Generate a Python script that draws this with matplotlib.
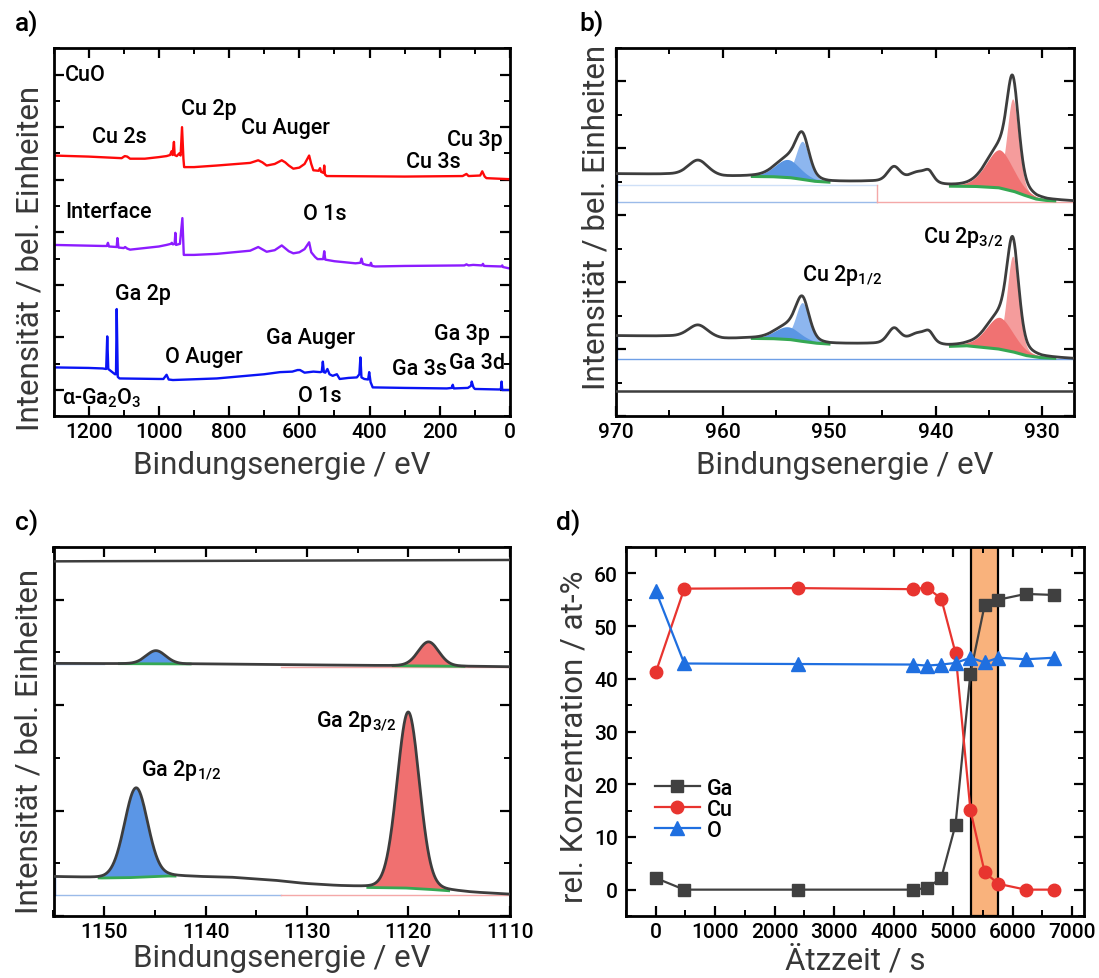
import numpy as np
import matplotlib
matplotlib.use("Agg")
import matplotlib.pyplot as plt
from matplotlib.ticker import MultipleLocator, NullFormatter

plt.rcParams["font.family"] = ["Roboto", "DejaVu Sans"]
plt.rcParams["font.weight"] = 500
plt.rcParams["mathtext.fontset"] = "custom"
plt.rcParams["mathtext.rm"] = "Roboto:medium"
plt.rcParams["mathtext.it"] = "Roboto:italic"
plt.rcParams["mathtext.bf"] = "Roboto:bold"

# ---------------------------------------------------------------- survey spectra (a)
CUO_EV = [1300, 1200, 1106, 1097, 1090, 1082, 1040, 1000, 978, 968, 964, 961, 957, 955,
          949, 942, 938, 934, 930, 928, 900, 835, 740, 726, 717, 705, 693, 670, 650, 640,
          630, 617, 600, 585, 572, 566, 560, 545, 541, 538, 531, 529, 527, 522, 300, 135,
          124, 118, 85, 79, 72, 67, 0]
CUO_INT = [4.46, 4.44, 4.41, 4.45, 4.44, 4.40, 4.40, 4.43, 4.45, 4.47, 4.54, 4.47, 4.72, 4.47,
           4.45, 4.50, 4.46, 5.00, 4.40, 4.24, 4.24, 4.27, 4.32, 4.35, 4.37, 4.33, 4.27, 4.30,
           4.37, 4.33, 4.27, 4.21, 4.23, 4.30, 4.46, 4.30, 4.18, 4.17, 4.22, 4.15, 4.13, 4.27,
           4.10, 4.07, 4.06, 4.07, 4.11, 4.07, 4.08, 4.16, 4.06, 4.03, 4.01]

IF_EV = [1300, 1160, 1148, 1145, 1142, 1120, 1118, 1115, 1100, 1096, 1090, 1082, 1000, 978,
         966, 963, 960, 955, 953, 951, 940, 933, 929, 900, 835, 740, 717, 693, 670, 650, 630,
         617, 600, 585, 572, 566, 555, 548, 532, 529, 526, 500, 440, 426, 423, 419, 409, 398,
         396, 393, 384, 300, 130, 124, 118, 105, 80, 77, 74, 25, 22, 20, 0]
IF_INT = [2.76, 2.74, 2.74, 2.80, 2.73, 2.72, 2.89, 2.71, 2.70, 2.72, 2.69, 2.67, 2.73, 2.76,
          2.78, 2.80, 2.77, 2.78, 2.99, 2.76, 2.78, 3.27, 2.57, 2.57, 2.59, 2.65, 2.72, 2.63,
          2.66, 2.75, 2.64, 2.60, 2.62, 2.68, 2.81, 2.62, 2.53, 2.49, 2.49, 2.64, 2.48, 2.45,
          2.41, 2.42, 2.50, 2.40, 2.38, 2.37, 2.42, 2.36, 2.35, 2.36, 2.37, 2.39, 2.37, 2.38,
          2.37, 2.40, 2.36, 2.35, 2.37, 2.34, 2.31]

GA_EV = [1300, 1200, 1160, 1150, 1147, 1144, 1125, 1122, 1120, 1117, 1112, 1000, 987, 978,
         972, 960, 835, 700, 655, 620, 605, 598, 585, 560, 540, 536, 533, 530, 526, 520, 514,
         505, 493, 485, 460, 436, 429, 426, 423, 415, 404, 401, 397, 391, 300, 180, 166, 163,
         160, 120, 111, 109, 104, 100, 30, 26, 24, 22, 0]
GA_INT = [0.43, 0.42, 0.41, 0.40, 1.02, 0.40, 0.30, 0.30, 1.54, 0.25, 0.22, 0.21, 0.21, 0.29,
          0.20, 0.19, 0.22, 0.30, 0.34, 0.35, 0.38, 0.38, 0.33, 0.35, 0.34, 0.35, 0.54, 0.34,
          0.33, 0.40, 0.30, 0.27, 0.30, 0.21, 0.23, 0.24, 0.30, 0.62, 0.24, 0.21, 0.20, 0.34,
          0.15, 0.05, 0.04, 0.03, 0.04, 0.10, 0.03, 0.04, 0.08, 0.16, 0.05, 0.02, 0.01, 0.02,
          0.16, 0.00, 0.00]

SURVEY_LABELS = ["CuO", "Cu 2s", "Cu 2p", "Cu Auger", "Cu 3p", "Cu 3s", "Interface", "O 1s",
                 "Ga 2p", "O Auger", "Ga Auger", "Ga 3p", "Ga 3s", "Ga 3d", "O 1s",
                 r"α-Ga$_\mathregular{2}$O$_\mathregular{3}$"]
SURVEY_LABEL_EV = [1208, 1111, 859, 639, 101, 218, 1142, 527, 1046, 873, 567, 136, 257, 93, 543, 1163]
SURVEY_LABEL_Y = [6.01, 4.83, 5.35, 5.00, 4.77, 4.34, 3.40, 3.35, 1.83, 0.64, 1.00, 1.07, 0.41, 0.53,
                  -0.11, -0.14]

# ---------------------------------------------------------------- Cu 2p detail (b)
# background knots (binding energy, intensity)
CU_TOP_BG_EV = [970, 965, 960, 957.2, 955, 953.5, 952.3, 951.2, 950.0, 946, 944.5, 940, 938.6,
                936, 934, 932.5, 931.5, 930.5, 929.5, 927]
CU_TOP_BG = [2.62, 2.61, 2.575, 2.58, 2.575, 2.56, 2.53, 2.505, 2.495, 2.50, 2.495, 2.44, 2.435,
             2.43, 2.41, 2.35, 2.29, 2.24, 2.22, 2.205]
CU_BOT_BG_EV = [970, 965, 960, 957.4, 955, 953.5, 952.3, 951, 949.9, 946, 944.5, 940, 938.9,
                937, 934, 932.5, 931.4, 930, 927]
CU_BOT_BG = [0.20, 0.19, 0.15, 0.16, 0.155, 0.14, 0.11, 0.085, 0.075, 0.075, 0.07, 0.045, 0.04,
             0.05, 0.0, -0.05, -0.10, -0.13, -0.15]

# fitted components: Cu 2p1/2 (main, shoulder), Cu 2p3/2 (main, shoulder)
CU_COMP_CENTER = [952.5, 953.9, 932.75, 934.0]
CU_TOP_COMP_HEIGHT = [0.57, 0.27, 1.38, 0.57]
CU_BOT_COMP_HEIGHT = [0.58, 0.19, 1.43, 0.475]
CU_COMP_FWHM = [1.5, 2.8, 1.3, 3.0]
CU_COMP_COLOR = ["#8db6ef", "#5a96e3", "#f59c9c", "#f07272"]
CU_FIT_REGION = [(957.2, 950.0), (957.2, 950.0), (938.6, 928.8), (938.6, 928.8)]

# shake-up satellites
CU_SAT_CENTER = [962.3, 943.9, 941.6, 940.6]
CU_TOP_SAT_HEIGHT = [0.23, 0.22, 0.17, 0.12]
CU_BOT_SAT_HEIGHT = [0.19, 0.23, 0.17, 0.12]
CU_SAT_FWHM = [2.2, 1.4, 2.2, 1.0]

CU_FLAT_LEVEL = -0.62

# ---------------------------------------------------------------- Ga 2p detail (c)
GA_TOP_BG_EV = [1155, 1140, 1130, 1120, 1110]
GA_TOP_BG = [1.396, 1.39, 1.382, 1.373, 1.364]
GA_BOT_BG_EV = [1155, 1150, 1147, 1143.5, 1140, 1137, 1132.6, 1130.3, 1127, 1123.6, 1120,
                1117, 1113.7, 1110]
GA_BOT_BG = [-0.627, -0.640, -0.635, -0.62, -0.63, -0.636, -0.668, -0.693, -0.715, -0.731,
             -0.735, -0.753, -0.778, -0.795]
GA_TOP_COMP_CENTER = [1144.9, 1118.0]
GA_TOP_COMP_HEIGHT = [0.125, 0.229]
GA_TOP_COMP_FWHM = [2.3, 2.4]
GA_BOT_COMP_CENTER = [1146.85, 1120.0]
GA_BOT_COMP_HEIGHT = [0.85, 1.67]
GA_BOT_COMP_FWHM = [2.7, 2.6]
GA_COMP_COLOR = ["#5b96e6", "#f07070"]
GA_TOP_REGION = [(1148.5, 1141.5), (1121.5, 1114.5)]
GA_BOT_REGION = [(1150.5, 1143.0), (1124.0, 1116.0)]
GA_FLAT_EV = [1155, 1110]
GA_FLAT = [2.364, 2.377]

# ---------------------------------------------------------------- depth profile (d)
ETCH_TIME = [0, 480, 2400, 4320, 4560, 4800, 5040, 5290, 5530, 5760, 6220, 6700]
GA_CONC = [2.2, 0.0, 0.0, 0.0, 0.3, 2.2, 12.3, 41.0, 54.0, 55.0, 56.1, 55.9]
CU_CONC = [41.2, 57.1, 57.2, 57.0, 57.3, 55.2, 44.9, 15.1, 3.3, 1.1, 0.0, 0.0]
O_CONC = [56.7, 42.9, 42.8, 42.7, 42.5, 42.7, 43.0, 44.0, 43.1, 44.0, 43.7, 44.0]
INTERFACE_WINDOW = (5300, 5750)


def line_shape(x, center, height, fwhm, mix):
    """Gaussian-Lorentzian sum line shape."""
    u = (x - center) / fwhm
    gauss = np.exp(-4 * np.log(2) * u ** 2)
    lorentz = 1.0 / (1.0 + 4 * u ** 2)
    return height * ((1 - mix) * gauss + mix * lorentz)


FIG_W, FIG_H = 1099, 979
fig = plt.figure(figsize=(FIG_W / 100, FIG_H / 100), dpi=100)


def axes_px(left, top, right, bottom):
    return fig.add_axes([left / FIG_W, 1 - bottom / FIG_H, (right - left) / FIG_W,
                         (bottom - top) / FIG_H])


def style(ax):
    for s in ax.spines.values():
        s.set_linewidth(2)
    ax.tick_params(which="both", direction="in", top=True, right=True, labelsize=15, pad=4,
                   colors="black")
    ax.tick_params(which="major", length=7, width=1.6)
    ax.tick_params(which="minor", length=4, width=1.4)


LABEL_KW = dict(fontsize=22.5, color="#383838")
TEXT_KW = dict(fontsize=15.5, color="black", ha="center", va="center")
DARK = "#3d3d3d"
GREEN = "#35a853"

# ================================================================ a) survey
ax_a = axes_px(53.5, 49.3, 510, 417.3)
ax_a.plot(CUO_EV, CUO_INT, color="#ff0a0a", lw=1.7)
ax_a.plot(IF_EV, IF_INT, color="#8c1cff", lw=1.7)
ax_a.plot(GA_EV, GA_INT, color="#0a14f5", lw=1.7)
for txt, xe, ye in zip(SURVEY_LABELS, SURVEY_LABEL_EV, SURVEY_LABEL_Y):
    ax_a.text(xe, ye, txt, **TEXT_KW)
ax_a.set_xlim(1300, 0)
ax_a.set_ylim(-0.5, 6.5)
ax_a.xaxis.set_major_locator(MultipleLocator(200))
ax_a.xaxis.set_minor_locator(MultipleLocator(100))
ax_a.yaxis.set_major_locator(MultipleLocator(1))
ax_a.yaxis.set_minor_locator(MultipleLocator(0.5))
ax_a.yaxis.set_major_formatter(NullFormatter())
style(ax_a)
ax_a.set_xlabel("Bindungsenergie / eV", **LABEL_KW)
ax_a.set_ylabel("Intensität / bel. Einheiten", **LABEL_KW)
ax_a.xaxis.set_label_coords(0.5, -0.092)
ax_a.yaxis.set_label_coords(-0.019, 0.432)

# ================================================================ b) Cu 2p
ax_b = axes_px(616, 49, 1074, 417)
xb = np.linspace(927, 970, 2500)


def draw_cu(ax, bg_ev, bg_val, comp_h, sat_h):
    bg = np.interp(xb, bg_ev[::-1], bg_val[::-1])
    comps = [line_shape(xb, c, h, w, 0.3)
             for c, h, w in zip(CU_COMP_CENTER, comp_h, CU_COMP_FWHM)]
    sats = [line_shape(xb, c, h, w, 0.3)
            for c, h, w in zip(CU_SAT_CENTER, sat_h, CU_SAT_FWHM)]
    for comp, color, (hi, lo) in zip(comps, CU_COMP_COLOR, CU_FIT_REGION):
        m = (xb <= hi) & (xb >= lo)
        ax.fill_between(xb[m], bg[m], bg[m] + comp[m], color=color, lw=0, zorder=2)
    for hi, lo in [CU_FIT_REGION[0], CU_FIT_REGION[2]]:
        m = (xb <= hi) & (xb >= lo)
        ax.plot(xb[m], bg[m], color=GREEN, lw=2.2, zorder=3)
    total = bg + np.sum(comps, axis=0) + np.sum(sats, axis=0)
    ax.plot(xb, total, color=DARK, lw=2, zorder=4)
    return bg


draw_cu(ax_b, CU_TOP_BG_EV, CU_TOP_BG, CU_TOP_COMP_HEIGHT, CU_TOP_SAT_HEIGHT)
draw_cu(ax_b, CU_BOT_BG_EV, CU_BOT_BG, CU_BOT_COMP_HEIGHT, CU_BOT_SAT_HEIGHT)
# fit-range guide lines
ax_b.plot([970, 945.5], [2.455, 2.455], color="#cfe0f7", lw=1, zorder=1)
ax_b.plot([970, 945.5], [2.195, 2.195], color="#9bbbe9", lw=1, zorder=1)
ax_b.plot([945.5, 927], [2.195, 2.195], color="#f4a8a8", lw=1, zorder=1)
ax_b.plot([945.5, 945.5], [2.195, 2.455], color="#f4a8a8", lw=1, zorder=1)
ax_b.plot([969.9, 969.9], [2.195, 2.62], color="#4a78c8", lw=1, zorder=1)
ax_b.plot([970, 927], [-0.15, -0.15], color="#6f9fe6", lw=1, zorder=1)
ax_b.plot([969.9, 969.9], [-0.15, 0.20], color="#4a78c8", lw=1, zorder=1)
ax_b.plot([970, 927], [CU_FLAT_LEVEL, CU_FLAT_LEVEL], color=DARK, lw=1.8, zorder=4)
ax_b.text(937.4, 1.68, r"Cu 2p$_\mathregular{3/2}$", **TEXT_KW)
ax_b.text(948.8, 1.12, r"Cu 2p$_\mathregular{1/2}$", **TEXT_KW)
ax_b.set_xlim(970, 927)
ax_b.set_ylim(-1, 4.5)
ax_b.xaxis.set_major_locator(MultipleLocator(10))
ax_b.xaxis.set_minor_locator(MultipleLocator(5))
ax_b.yaxis.set_major_locator(MultipleLocator(1))
ax_b.yaxis.set_minor_locator(MultipleLocator(0.5))
ax_b.yaxis.set_major_formatter(NullFormatter())
style(ax_b)
ax_b.set_xlabel("Bindungsenergie / eV", **LABEL_KW)
ax_b.set_ylabel("Intensität / bel. Einheiten", **LABEL_KW)
ax_b.xaxis.set_label_coords(0.5, -0.092)
ax_b.yaxis.set_label_coords(-0.013, 0.542)

# ================================================================ c) Ga 2p
ax_c = axes_px(53.5, 548, 509.6, 917)
xc = np.linspace(1110, 1155, 2500)


def draw_ga(ax, bg_ev, bg_val, centers, heights, fwhms, regions):
    bg = np.interp(xc, bg_ev[::-1], bg_val[::-1])
    comps = [line_shape(xc, c, h, w, 0.1) for c, h, w in zip(centers, heights, fwhms)]
    for comp, color, (hi, lo) in zip(comps, GA_COMP_COLOR, regions):
        m = (xc <= hi) & (xc >= lo)
        ax.fill_between(xc[m], bg[m], bg[m] + comp[m], color=color, lw=0, zorder=2)
        ax.plot(xc[m], bg[m], color=GREEN, lw=2, zorder=3)
    ax.plot(xc, bg + np.sum(comps, axis=0), color=DARK, lw=2, zorder=4)


draw_ga(ax_c, GA_TOP_BG_EV, GA_TOP_BG, GA_TOP_COMP_CENTER, GA_TOP_COMP_HEIGHT,
        GA_TOP_COMP_FWHM, GA_TOP_REGION)
draw_ga(ax_c, GA_BOT_BG_EV, GA_BOT_BG, GA_BOT_COMP_CENTER, GA_BOT_COMP_HEIGHT,
        GA_BOT_COMP_FWHM, GA_BOT_REGION)
ax_c.plot(GA_FLAT_EV, GA_FLAT, color=DARK, lw=1.8, zorder=4)
ax_c.plot([1155, 1132.6], [-0.804, -0.804], color="#9bbbe9", lw=1, zorder=1)
ax_c.plot([1132.6, 1110], [-0.804, -0.804], color="#f4a8a8", lw=1, zorder=1)
ax_c.plot([1154.9, 1154.9], [-0.804, -0.627], color="#4a78c8", lw=1, zorder=1)
ax_c.plot([1155, 1150], [1.387, 1.387], color="#9bbbe9", lw=1, zorder=1)
ax_c.plot([1132.6, 1110], [1.36, 1.36], color="#f4a8a8", lw=1, zorder=1)
ax_c.text(1125.1, 0.85, r"Ga 2p$_\mathregular{3/2}$", **TEXT_KW)
ax_c.text(1142.4, 0.39, r"Ga 2p$_\mathregular{1/2}$", **TEXT_KW)
ax_c.set_xlim(1155, 1110)
ax_c.set_ylim(-1, 2.5)
ax_c.xaxis.set_major_locator(MultipleLocator(10))
ax_c.xaxis.set_minor_locator(MultipleLocator(5))
ax_c.yaxis.set_major_locator(MultipleLocator(1))
ax_c.yaxis.set_minor_locator(MultipleLocator(0.5))
ax_c.yaxis.set_major_formatter(NullFormatter())
style(ax_c)
ax_c.set_xlabel("Bindungsenergie / eV", **LABEL_KW)
ax_c.set_ylabel("Intensität / bel. Einheiten", **LABEL_KW)
ax_c.xaxis.set_label_coords(0.5, -0.073)
ax_c.yaxis.set_label_coords(-0.021, 0.477)

# ================================================================ d) depth profile
ax_d = axes_px(626, 548, 1084, 917)
ax_d.axvspan(*INTERFACE_WINDOW, facecolor="#f9b27c", edgecolor="black", lw=1.6, zorder=1)
ax_d.plot(ETCH_TIME, GA_CONC, color="#404040", lw=1.6, marker="s", ms=8, label="Ga", zorder=3)
ax_d.plot(ETCH_TIME, CU_CONC, color="#e8342f", lw=1.6, marker="o", ms=9, label="Cu", zorder=3)
ax_d.plot(ETCH_TIME, O_CONC, color="#1f6fe0", lw=1.6, marker="^", ms=9.5, label="O", zorder=3)
ax_d.set_xlim(-500, 7200)
ax_d.set_ylim(-5, 65)
ax_d.xaxis.set_major_locator(MultipleLocator(1000))
ax_d.xaxis.set_minor_locator(MultipleLocator(500))
ax_d.yaxis.set_major_locator(MultipleLocator(10))
ax_d.yaxis.set_minor_locator(MultipleLocator(5))
style(ax_d)
ax_d.tick_params(axis="y", which="major", pad=6)
ax_d.legend(loc="upper left", bbox_to_anchor=(0.063, 0.375), frameon=False, fontsize=15.5,
            handlelength=2.1, handletextpad=0.3, labelspacing=0.0, borderpad=0,
            borderaxespad=0)
ax_d.set_xlabel("Ätzzeit / s", **LABEL_KW)
ax_d.set_ylabel("rel. Konzentration / at-%", **LABEL_KW)
ax_d.xaxis.set_label_coords(0.5, -0.079)
ax_d.yaxis.set_label_coords(-0.081, 0.488)

# panel letters
for letter, xp, yp in [("a)", 15, 10), ("b)", 579, 10), ("c)", 15, 509), ("d)", 556, 509)]:
    fig.text(xp / FIG_W, 1 - yp / FIG_H, letter, fontsize=19, va="top", ha="left")

fig.savefig("out.png", dpi=100)
